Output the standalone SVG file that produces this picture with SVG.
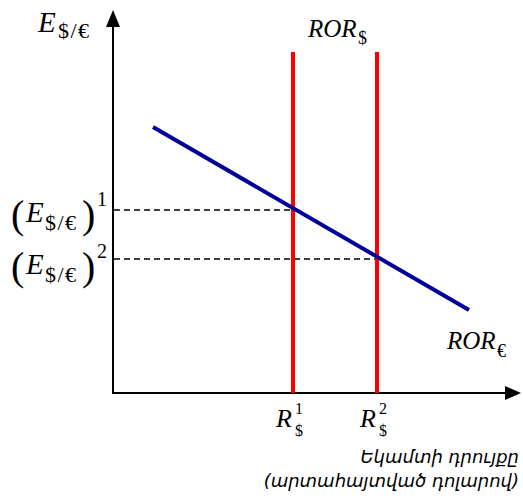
<svg xmlns="http://www.w3.org/2000/svg" width="523" height="501" viewBox="0 0 523 501">
<style>
.m{font-family:"Liberation Serif","Times New Roman",serif;fill:#000}
.i{font-style:italic}
.sub{font-size:22px;letter-spacing:1.5px}
.arm{font-family:"DejaVu Sans","Noto Sans",sans-serif;font-style:italic;font-size:18px;fill:#000}
.ax{stroke:#000;stroke-width:2;fill:none}
.dash{stroke:#000;stroke-width:1.5;stroke-dasharray:6 4;fill:none}
.red{stroke:#ff0000;stroke-width:4;fill:none}
.blue{stroke:#000099;stroke-width:4;fill:none}
</style>
<rect width="523" height="501" fill="#fff"/>
<g id="connectors">
<line class="ax" x1="113" y1="393" x2="113" y2="24"/>
<line class="ax" x1="112" y1="393" x2="507" y2="393"/>
<path d="M505,386 L521,393 L505,400 Z" fill="#000"/>
<path d="M106,27 L113,10 L120,27 Z" fill="#000"/>
<line class="dash" x1="114" y1="210" x2="293" y2="210"/>
<line class="dash" x1="114" y1="259" x2="377" y2="259"/>
</g>
<g id="ror-dollar-1"><line class="red" x1="293" y1="52" x2="293" y2="393"/></g>
<g id="ror-dollar-2"><line class="red" x1="377" y1="52" x2="377" y2="393"/></g>
<g id="ror-euro"><line class="blue" x1="153" y1="127" x2="469" y2="310"/></g>
<g id="labels">
<text class="m i" x="38" y="32" font-size="29">E</text>
<text class="m sub" x="58" y="38">$/€</text>
<text class="m i" x="308" y="37" font-size="25">ROR</text>
<text class="m" x="358" y="44" font-size="18">$</text>
<text class="m i" x="447" y="349" font-size="25">ROR</text>
<text class="m" x="497" y="357" font-size="18">€</text>
<text class="m" x="11" y="228" font-size="40">(</text>
<text class="m i" x="26" y="222" font-size="29">E</text>
<text class="m sub" x="45" y="230">$/€</text>
<text class="m" x="82" y="228" font-size="40">)</text>
<text class="m" x="97" y="206" font-size="20">1</text>
<text class="m" x="11" y="280" font-size="40">(</text>
<text class="m i" x="26" y="274" font-size="29">E</text>
<text class="m sub" x="45" y="282">$/€</text>
<text class="m" x="82" y="280" font-size="40">)</text>
<text class="m" x="97" y="258" font-size="20">2</text>
<text class="m i" x="276" y="427" font-size="26">R</text>
<text class="m" x="295" y="414" font-size="16">1</text>
<text class="m" x="295" y="436" font-size="16">$</text>
<text class="m i" x="360" y="427" font-size="26">R</text>
<text class="m" x="379" y="414" font-size="16">2</text>
<text class="m" x="379" y="436" font-size="16">$</text>
<text class="arm" x="519" y="463" text-anchor="end">Եկամտի դրույքը</text>
<text class="arm" x="519" y="487" text-anchor="end">(արտահայտված դոլարով)</text>
</g>
</svg>
